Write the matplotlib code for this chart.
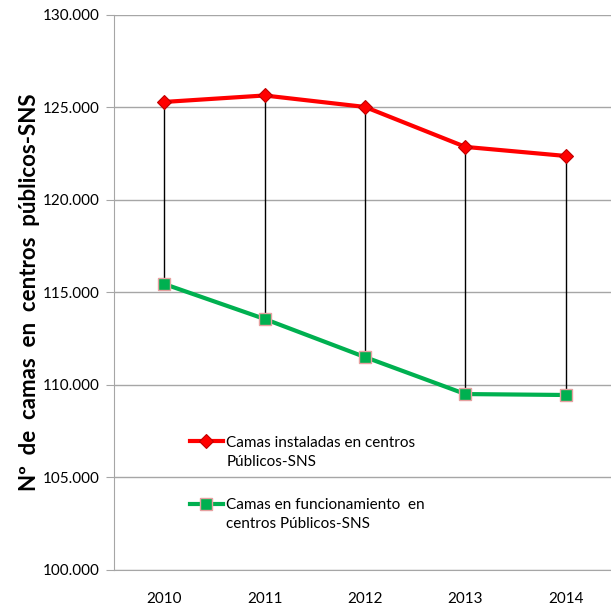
import matplotlib.pyplot as plt
from matplotlib.ticker import FuncFormatter
from matplotlib.lines import Line2D

# data
years = ['2010', '2011', '2012', '2013', '2014']
camas_instaladas = [125300, 125650, 125030, 122870, 122380]
camas_funcionamiento = [115460, 113570, 111510, 109510, 109460]
label_inst = ['Camas instaladas en centros', 'Públicos-SNS']
label_func = ['Camas en funcionamiento  en', 'centros Públicos-SNS']

plt.rcParams['font.family'] = ['Lato', 'DejaVu Sans']

fig = plt.figure(figsize=(6.11, 6.05), dpi=100)
ax = fig.add_axes([114/611, 35/605, 502/611, 555/605])

x = range(len(years))

# high-low lines between the two series
ax.vlines(x, camas_funcionamiento, camas_instaladas, color='black', lw=1, zorder=2)

l1, = ax.plot(x, camas_instaladas, color='#FF0000', lw=3, marker='D', ms=7,
              mfc='#FF0000', mec='#C00000', mew=0.8, zorder=3)
l2, = ax.plot(x, camas_funcionamiento, color='#00B050', lw=3, marker='s', ms=8,
              mfc='#00B050', mec='#E6A0A0', mew=1, zorder=3)

ax.set_xlim(-0.5, 4.5)
ax.set_ylim(100000, 130000)
ax.set_yticks(range(100000, 130001, 5000))
ax.yaxis.set_major_formatter(FuncFormatter(lambda v, p: f'{int(v):,}'.replace(',', '.')))
ax.set_xticks(list(x))
ax.set_xticklabels(years)

ax.grid(axis='y', color='#A6A6A6', lw=1)
ax.set_axisbelow(True)
for s in ['top', 'right']:
    ax.spines[s].set_visible(False)
for s in ['left', 'bottom']:
    ax.spines[s].set_color('#A6A6A6')
ax.tick_params(axis='y', length=6, color='#A6A6A6', labelsize=11, pad=4)
ax.tick_params(axis='x', length=0, labelsize=11, pad=16)

ax.set_ylabel('Nº  de  camas  en  centros  públicos-SNS', fontsize=16,
              fontweight='bold', labelpad=2)

# legend: one box per series, second text line gets an empty handle
blank = Line2D([], [], color='none')
leg1 = ax.legend([l1, blank], label_inst, loc='upper left', bbox_to_anchor=(0.151, 0.242),
                 frameon=False, fontsize=11, handlelength=2.15, handletextpad=0.25,
                 labelspacing=0.33, borderpad=0, borderaxespad=0)
ax.add_artist(leg1)
ax.legend([l2, blank], label_func, loc='upper left', bbox_to_anchor=(0.151, 0.130),
          frameon=False, fontsize=11, handlelength=2.15, handletextpad=0.25,
          labelspacing=0.33, borderpad=0, borderaxespad=0)

fig.savefig('out.png', dpi=100)
